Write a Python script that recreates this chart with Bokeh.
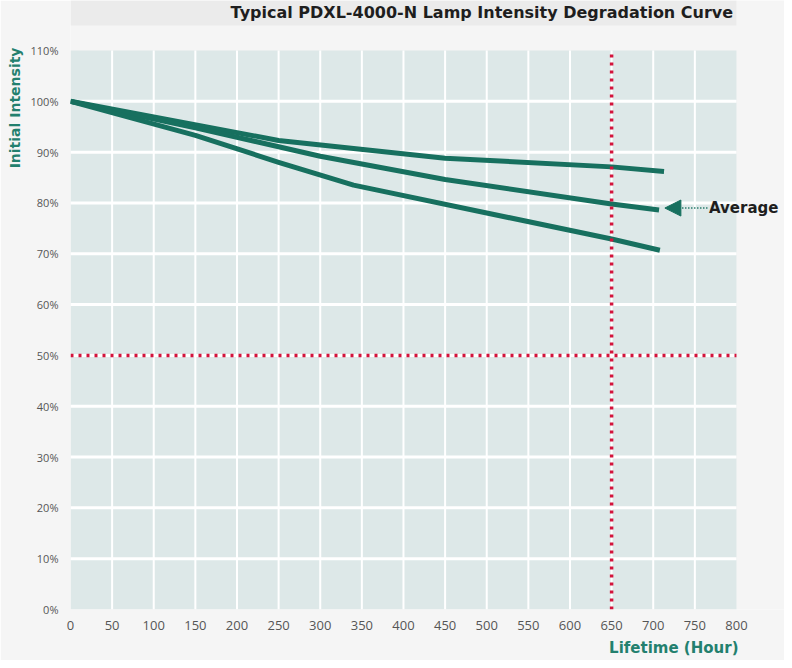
from bokeh.plotting import figure
from bokeh.models import (Range1d, FixedTicker, PrintfTickFormatter, Arrow,
                          NormalHead, Title)
from bokeh.core.properties import value
from bokeh.embed import file_html
from bokeh.resources import INLINE

# ---- data ----
title_text = "Typical PDXL-4000-N Lamp Intensity Degradation Curve"
x_label = "Lifetime (Hour)"
y_label = "Initial Intensity"
avg_label = "Average"

x_ticks = list(range(0, 801, 50))
y_ticks = list(range(0, 111, 10))

upper_hours = [0, 250, 450, 650, 713]
upper_pct = [100, 92.3, 88.8, 87.1, 86.2]

avg_hours = [0, 150, 300, 450, 650, 707]
avg_pct = [100, 94.8, 89.2, 84.6, 79.8, 78.6]

lower_hours = [0, 150, 250, 340, 650, 708]
lower_pct = [100, 93.3, 88.0, 83.5, 72.9, 70.7]

lifetime_mark = 650      # hours
threshold_mark = 50      # percent
avg_arrow_y = 79.0

# ---- style ----
PAGE_BG = "#f5f5f5"
BAND_BG = "#ebebeb"
PLOT_BG = "#dde8e8"
TEAL = "#17705f"
TEAL_TXT = "#23806e"
RED = "#d3143c"
TICK_TXT = "#555555"
FONT = "Open Sans"
BOLD_FONT = "DejaVu Sans"

X_MAX = 800
X_VIEW = 857.7
Y_TOP = 119.84
Y_MAX = 110

p = figure(width=784, height=660, output_backend="svg", toolbar_location=None,
           x_range=Range1d(0, X_VIEW), y_range=Range1d(0, Y_TOP),
           min_border_left=70, min_border_right=0, min_border_top=0,
           min_border_bottom=50)
p.background_fill_color = PAGE_BG
p.border_fill_color = PAGE_BG
p.outline_line_color = None
p.xgrid.visible = False
p.ygrid.visible = False

# title band
p.quad(left=[0], right=[X_MAX], bottom=[114.9], top=[Y_TOP], fill_color=BAND_BG,
       line_color=None)
p.text(x=[796], y=[117.4], text=[title_text], text_align="right",
       text_baseline="middle", text_font=value(BOLD_FONT), text_font_style="bold",
       text_font_size="16px", text_color="#1e1e1e")

# plot area background and grid
p.quad(left=[0], right=[X_MAX], bottom=[0], top=[Y_MAX], fill_color=PLOT_BG,
       line_color=None)
vx = [t for t in x_ticks if 0 < t < X_MAX]
p.segment(x0=vx, x1=vx, y0=[0] * len(vx), y1=[Y_MAX] * len(vx),
          line_color="white", line_width=2)
hy = [t for t in y_ticks if 0 < t < Y_MAX]
p.segment(x0=[0] * len(hy), x1=[X_MAX] * len(hy), y0=hy, y1=hy,
          line_color="white", line_width=3)

# curves
for xs, ys in [(upper_hours, upper_pct), (avg_hours, avg_pct), (lower_hours, lower_pct)]:
    p.line(xs, ys, line_color=TEAL, line_width=5, line_join="round")

# red dotted reference lines
p.line([lifetime_mark, lifetime_mark], [0, Y_MAX], line_color=RED, line_width=3.5,
       line_dash="3 5")
p.line([0, X_MAX], [threshold_mark, threshold_mark], line_color=RED, line_width=3.5,
       line_dash="3 5")

# average annotation
p.add_layout(Arrow(end=NormalHead(size=16, fill_color=TEAL, line_color=TEAL),
                   x_start=765, y_start=avg_arrow_y, x_end=714, y_end=avg_arrow_y,
                   line_color=TEAL, line_width=2, line_dash="1 2"))
p.text(x=[767], y=[avg_arrow_y], text=[avg_label], text_align="left",
       text_baseline="middle", text_font=value(BOLD_FONT), text_font_style="bold",
       text_font_size="15px", text_color="#1e1e1e")

# axis labels as side titles
p.add_layout(Title(text=y_label, align="right", offset=47, text_font=BOLD_FONT,
                   text_font_style="bold", text_font_size="14px",
                   text_color=TEAL_TXT, standoff=9), "left")
p.add_layout(Title(text=x_label, align="right", offset=46, text_font=BOLD_FONT,
                   text_font_style="bold", text_font_size="15px",
                   text_color=TEAL_TXT, standoff=8), "below")

# axes
for ax in (p.xaxis[0], p.yaxis[0]):
    ax.axis_line_color = None
    ax.major_tick_line_color = None
    ax.minor_tick_line_color = None
    ax.major_label_text_font = FONT
    ax.major_label_text_color = TICK_TXT
p.xaxis.major_label_text_font_size = "13px"
p.yaxis.major_label_text_font_size = "11px"
p.xaxis.ticker = FixedTicker(ticks=x_ticks)
p.yaxis.ticker = FixedTicker(ticks=y_ticks)
p.yaxis.formatter = PrintfTickFormatter(format="%d%%")
p.xaxis.major_label_standoff = 5
p.yaxis.major_label_standoff = 6

open("out.html", "w").write(file_html(p, INLINE))
